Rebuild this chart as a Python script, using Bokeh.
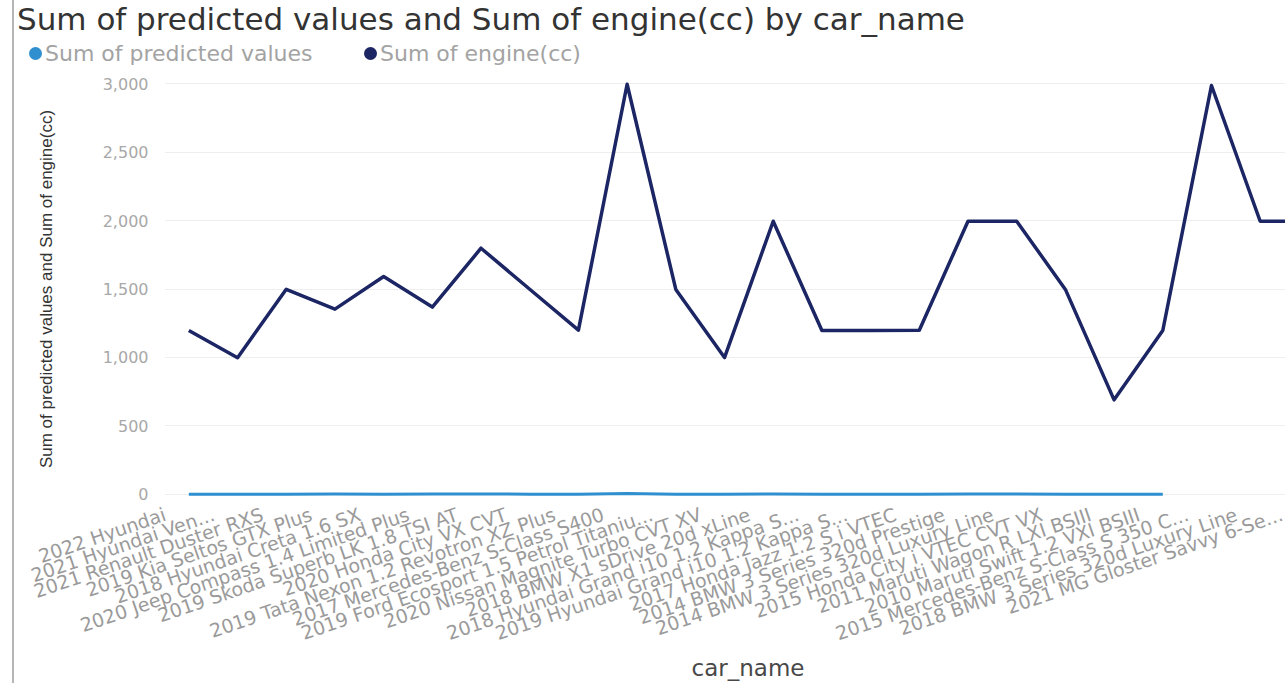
from bokeh.plotting import figure
from bokeh.models import FixedTicker, NumeralTickFormatter, Range1d, Spacer, Div
from bokeh.layouts import row, column
from bokeh.embed import file_html
from bokeh.resources import INLINE

# Category labels as shown on the axis (long names are cut short)
car_names = [
    "2022 Hyundai",
    "2021 Hyundai Ven...",
    "2021 Renault Duster RXS",
    "2019 Kia Seltos GTX Plus",
    "2018 Hyundai Creta 1.6 SX",
    "2020 Jeep Compass 1.4 Limited Plus",
    "2019 Skoda Superb LK 1.8 TSI AT",
    "2020 Honda City VX CVT",
    "2019 Tata Nexon 1.2 Revotron XZ Plus",
    "2017 Mercedes-Benz S-Class S400",
    "2019 Ford Ecosport 1.5 Petrol Titaniu...",
    "2020 Nissan Magnite Turbo CVT XV",
    "2018 BMW X1 sDrive 20d xLine",
    "2018 Hyundai Grand i10 1.2 Kappa S...",
    "2019 Hyundai Grand i10 1.2 Kappa S...",
    "2017 Honda Jazz 1.2 S i VTEC",
    "2014 BMW 3 Series 320d Prestige",
    "2014 BMW 3 Series 320d Luxury Line",
    "2015 Honda City i VTEC CVT VX",
    "2011 Maruti Wagon R LXI BSIII",
    "2010 Maruti Swift 1.2 VXI BSIII",
    "2015 Mercedes-Benz S-Class S 350 C...",
    "2018 BMW 3 Series 320d Luxury Line",
    "2021 MG Gloster Savvy 6-Se...",
]

# Sum of engine(cc) per car
engine_cc = [1197, 998, 1498, 1353, 1591, 1368, 1798, 1498, 1199, 2996,
             1497, 999, 1995, 1197, 1197, 1199, 1995, 1995, 1497, 690,
             1197, 2987, 1995, 1996]

# Sum of predicted values (only the first 21 cars have a prediction)
predicted = [0.78, 1.02, 0.96, 1.55, 1.12, 1.95, 2.05, 1.18, 0.82, 6.10,
             0.88, 0.79, 2.65, 0.52, 0.58, 0.61, 1.42, 1.65, 0.74, 0.22,
             0.31]

y_ticks = [0, 500, 1000, 1500, 2000, 2500, 3000]

TITLE = "Sum of predicted values and Sum of engine(cc) by car_name"
PRED_NAME = "Sum of predicted values"
ENGINE_NAME = "Sum of engine(cc)"
X_TITLE = "car_name"
Y_TITLE = "Sum of predicted values and Sum of engine(cc)"

PRED_COLOR = "#2f8fcf"
ENGINE_COLOR = "#1c2664"
FONT = "DejaVu Sans"
W = 1271  # width of the visual, right of the container border

idx = list(range(len(car_names)))

p = figure(
    width=W, height=589,
    x_range=Range1d(-0.5, 22.52),
    y_range=Range1d(-60, 3060),
    output_backend="svg", toolbar_location=None, title=None,
    min_border_left=150, min_border_right=0,
    min_border_top=7, min_border_bottom=155,
    margin=0,
)
p.outline_line_color = None
p.background_fill_color = "white"
p.border_fill_color = "white"

p.line(idx[:len(predicted)], predicted, line_color=PRED_COLOR, line_width=3,
       line_join="round")
p.line(idx, engine_cc, line_color=ENGINE_COLOR, line_width=3.5,
       line_join="round")

# Category axis: each label ends just left of its point
tick_pos = [round(i - 0.49, 2) for i in idx]
xa = p.xaxis[0]
xa.ticker = FixedTicker(ticks=tick_pos)
xa.major_label_overrides = {t: name for t, name in zip(tick_pos, car_names)}
xa.major_label_orientation = 0.33
xa.major_label_text_font = FONT
xa.major_label_text_font_size = "19px"
xa.major_label_text_color = "#9a9a9a"
xa.major_label_standoff = 5
xa.axis_line_color = None
xa.major_tick_line_color = None
xa.minor_tick_line_color = None

ya = p.yaxis[0]
ya.ticker = FixedTicker(ticks=y_ticks)
ya.formatter = NumeralTickFormatter(format="0,0")
ya.major_label_text_font = FONT
ya.major_label_text_font_size = "16px"
ya.major_label_text_color = "#a8a8a8"
ya.major_label_standoff = 16
ya.major_tick_out = 0
ya.major_tick_line_color = None
ya.minor_tick_line_color = None
ya.axis_line_color = None
ya.axis_label = Y_TITLE
ya.axis_label_text_font = "Liberation Sans"
ya.axis_label_text_font_size = "17px"
ya.axis_label_text_font_style = "normal"
ya.axis_label_text_color = "#333333"
ya.axis_label_standoff = 44

p.xgrid.visible = False
p.ygrid.grid_line_color = "#eeeeee"
p.ygrid.grid_line_width = 1

title_div = Div(
    width=W, height=38, margin=0,
    text=(f'<div style="position:relative;width:{W}px;height:38px;">'
          f'<span style="position:absolute;left:3px;top:0;line-height:38px;'
          f'font-family:\'{FONT}\';font-size:31px;color:#333333;'
          f'white-space:nowrap;">{TITLE}</span></div>'),
)


def legend_item(left, color, name):
    dot = (f'<span style="position:absolute;left:{left}px;top:9px;width:13px;'
           f'height:13px;border-radius:50%;background:{color};"></span>')
    txt = (f'<span style="position:absolute;left:{left + 16}px;top:0;'
           f'line-height:32px;font-family:\'{FONT}\';font-size:22px;'
           f'color:#a3a3a3;white-space:nowrap;">{name}</span>')
    return dot + txt


legend_div = Div(
    width=W, height=30, margin=0,
    text=(f'<div style="position:relative;width:{W}px;height:30px;">'
          + legend_item(15, PRED_COLOR, PRED_NAME)
          + legend_item(350, ENGINE_COLOR, ENGINE_NAME)
          + '</div>'),
)

xtitle_div = Div(
    width=W, height=26, margin=0,
    text=(f'<div style="position:relative;width:{W}px;height:26px;">'
          f'<span style="position:absolute;left:734px;top:-2px;'
          f'transform:translateX(-50%);line-height:26px;'
          f'font-family:\'{FONT}\';font-size:23px;color:#484848;'
          f'white-space:nowrap;">{X_TITLE}</span></div>'),
)

# Thin container border on the left edge, then the visual itself
layout = row(
    Spacer(width=12, height=683, margin=0),
    Spacer(width=2, height=683, margin=0,
           styles={"background-color": "#b5b5b5"}),
    column(title_div, legend_div, p, xtitle_div, spacing=0, margin=0),
    spacing=0, margin=0,
)

open("out.html", "w").write(file_html(layout, INLINE))
